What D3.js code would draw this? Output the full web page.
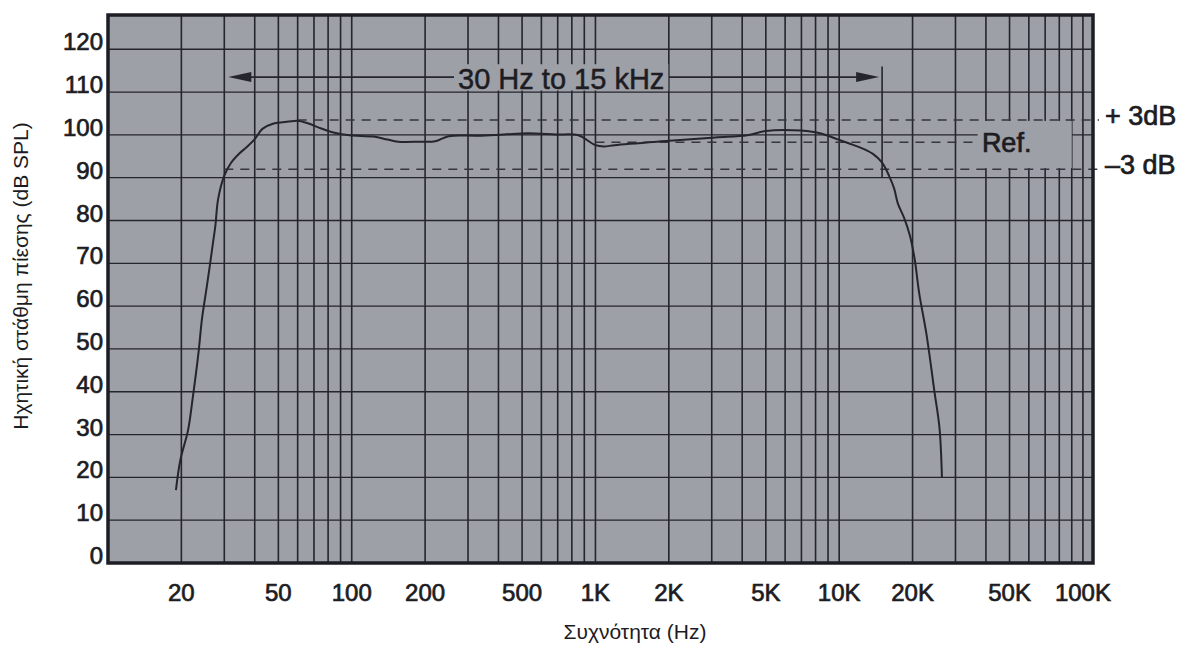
<!DOCTYPE html>
<html>
<head>
<meta charset="utf-8">
<script src="https://cdn.jsdelivr.net/npm/d3@7"></script>
<style>
  body { margin: 0; background: #fff; }
  text { font-family: "Liberation Sans", Arial, Helvetica, sans-serif; fill: #1c1c22; }
  .heavy { stroke: #1c1c22; stroke-width: 0.7px; }
</style>
</head>
<body>
<script>
const freq = [19, 19.8, 21.3, 22.2, 23.5, 24.3, 25.5, 27, 27.6, 28.3, 30, 32, 34.5, 37, 40, 43, 47.5, 55, 60, 66, 75, 85, 98,
    123, 140, 155, 190, 220, 250, 330, 420, 530, 690, 850, 1000, 1080, 1200, 2000, 3100, 4200, 5000, 7000, 8000, 9000, 9800,
    11000, 12500, 13800, 15000, 16000, 16800, 17400, 18500, 19500, 20400, 21300, 22800, 24600, 25800, 26400];
const spl = [17, 24, 31, 38, 49, 57, 65, 75, 79, 85, 90.5, 93.5, 95.6, 97.1, 99, 101.4, 102.6, 103.1, 103.3, 102.7, 101.5, 100.5, 99.9,
    99.6, 98.9, 98.4, 98.4, 98.5, 99.7, 99.8, 100.1, 100.4, 100.1, 99.9, 97.6, 97.3, 97.6, 98.6, 99.4, 99.9, 100.9, 101, 100.6, 99.8, 99,
    98, 96.8, 95.5, 93.5, 90.5, 87.5, 84, 80.5, 76.5, 71, 63, 53.5, 40, 31.5, 20];

const yTicks = [0, 10, 20, 30, 40, 50, 60, 70, 80, 90, 100, 110, 120];
const xTickValues = [20, 50, 100, 200, 500, 1000, 2000, 5000, 10000, 20000, 50000, 100000];
const xTickLabels = ["20", "50", "100", "200", "500", "1K", "2K", "5K", "10K", "20K", "50K", "100K"];

const refLevels = [103.5, 98.3, 92];
const refLabels = ["+ 3dB", "Ref.", "\u20133 dB"];
const refFrom = [60, 1000, 30];

const bandLimits = [30, 15000];
const bandLevel = 113.5;
const bandLabel = "30 Hz to 15 kHz";

const width = 1190, height = 655;
const plotL = 108, plotR = 1093, plotT = 15, plotB = 563;
const bg = "#9ea0a7", ink = "#24252d";

const x = d3.scaleLog().domain([10, 110000]).range([plotL, plotR]);
const y = d3.scaleLinear().domain([0, 128]).range([plotB, plotT]);

const svg = d3.select("body").append("svg")
    .attr("width", width)
    .attr("height", height);

svg.append("rect")
    .attr("x", plotL).attr("y", plotT)
    .attr("width", plotR - plotL).attr("height", plotB - plotT)
    .attr("fill", bg);

// grid
svg.append("g")
    .attr("stroke", ink)
    .attr("stroke-width", 1.6)
    .selectAll("line")
    .data(x.ticks().filter(d => d > 10 && d < 110000))
    .join("line")
    .attr("x1", d => x(d)).attr("x2", d => x(d))
    .attr("y1", plotT).attr("y2", plotB);

svg.append("g")
    .attr("stroke", ink)
    .attr("stroke-width", 1.3)
    .selectAll("line")
    .data(yTicks.filter(d => d > 0))
    .join("line")
    .attr("x1", plotL).attr("x2", plotR)
    .attr("y1", d => y(d)).attr("y2", d => y(d));

// box behind "Ref."
svg.append("rect")
    .attr("x", x(37000)).attr("y", y(refLevels[0]) + 1)
    .attr("width", x(90000) - x(37000))
    .attr("height", y(refLevels[2]) - y(refLevels[0]) - 2)
    .attr("fill", bg);

// reference dashes
svg.append("g")
    .attr("stroke", "#34353e")
    .attr("stroke-width", 1.5)
    .attr("stroke-dasharray", "9,7")
    .selectAll("line")
    .data(refLevels)
    .join("line")
    .attr("x1", (d, i) => x(refFrom[i]))
    .attr("x2", (d, i) => i === 1 ? x(37000) : plotR + 6)
    .attr("y1", d => y(d)).attr("y2", d => y(d));

svg.selectAll(".reflabel")
    .data(refLevels)
    .join("text")
    .attr("class", "reflabel heavy")
    .attr("x", (d, i) => i === 1 ? x(38500) : plotR + 12)
    .attr("y", (d, i) => y(d) + (i === 1 ? 10 : 5))
    .attr("font-size", 27)
    .text((d, i) => refLabels[i]);

// response curve
const line = d3.line()
    .x(d => x(d[0]))
    .y(d => y(d[1]))
    .curve(d3.curveCatmullRom.alpha(0.5));

svg.append("path")
    .datum(freq.map((f, i) => [f, spl[i]]))
    .attr("fill", "none")
    .attr("stroke", ink)
    .attr("stroke-width", 2)
    .attr("stroke-linejoin", "round")
    .attr("d", line);

// bandwidth arrow
const ay = y(bandLevel);
const ax0 = x(bandLimits[0]) + 4, ax1 = x(bandLimits[1]) - 3;

svg.append("line")
    .attr("x1", x(bandLimits[1])).attr("x2", x(bandLimits[1]))
    .attr("y1", y(116)).attr("y2", y(90))
    .attr("stroke", ink).attr("stroke-width", 1.6);

svg.append("line")
    .attr("x1", ax0 + 10).attr("x2", ax1 - 10)
    .attr("y1", ay).attr("y2", ay)
    .attr("stroke", ink).attr("stroke-width", 1.6);

svg.append("path")
    .attr("d", `M${ax0},${ay}L${ax0 + 23},${ay - 5}L${ax0 + 23},${ay + 5}Z`)
    .attr("fill", ink);
svg.append("path")
    .attr("d", `M${ax1},${ay}L${ax1 - 23},${ay - 5}L${ax1 - 23},${ay + 5}Z`)
    .attr("fill", ink);

const bandText = svg.append("text")
    .attr("class", "heavy")
    .attr("x", (x(bandLimits[0]) + x(bandLimits[1])) / 2 + 8)
    .attr("y", ay + 12)
    .attr("text-anchor", "middle")
    .attr("font-size", 29)
    .style("stroke-width", "0.5px")
    .text(bandLabel);

const bb = bandText.node().getBBox();
svg.insert("rect", () => bandText.node())
    .attr("x", bb.x - 4).attr("y", y(116.5))
    .attr("width", bb.width + 8)
    .attr("height", y(110) - 1.5 - y(116.5))
    .attr("fill", bg);

// frame
svg.append("rect")
    .attr("x", plotL).attr("y", plotT)
    .attr("width", plotR - plotL).attr("height", plotB - plotT)
    .attr("fill", "none")
    .attr("stroke", "#1d1d24")
    .attr("stroke-width", 3.5);

// axis labels
svg.append("g")
    .selectAll("text")
    .data(yTicks)
    .join("text")
    .attr("class", "heavy")
    .attr("x", plotL - 5)
    .attr("y", d => y(d) + 1)
    .attr("text-anchor", "end")
    .attr("font-size", 24)
    .text(d => d);

svg.append("g")
    .selectAll("text")
    .data(xTickValues)
    .join("text")
    .attr("class", "heavy")
    .attr("x", d => x(d))
    .attr("y", 601)
    .attr("text-anchor", "middle")
    .attr("font-size", 24)
    .text((d, i) => xTickLabels[i]);

svg.append("text")
    .attr("x", 635)
    .attr("y", 639)
    .attr("text-anchor", "middle")
    .attr("font-size", 21)
    .text("Συχνότητα (Hz)");

svg.append("text")
    .attr("transform", "translate(28,276) rotate(-90)")
    .attr("text-anchor", "middle")
    .attr("font-size", 21)
    .text("Ηχητική στάθμη πίεσης (dB SPL)");
</script>
</body>
</html>
